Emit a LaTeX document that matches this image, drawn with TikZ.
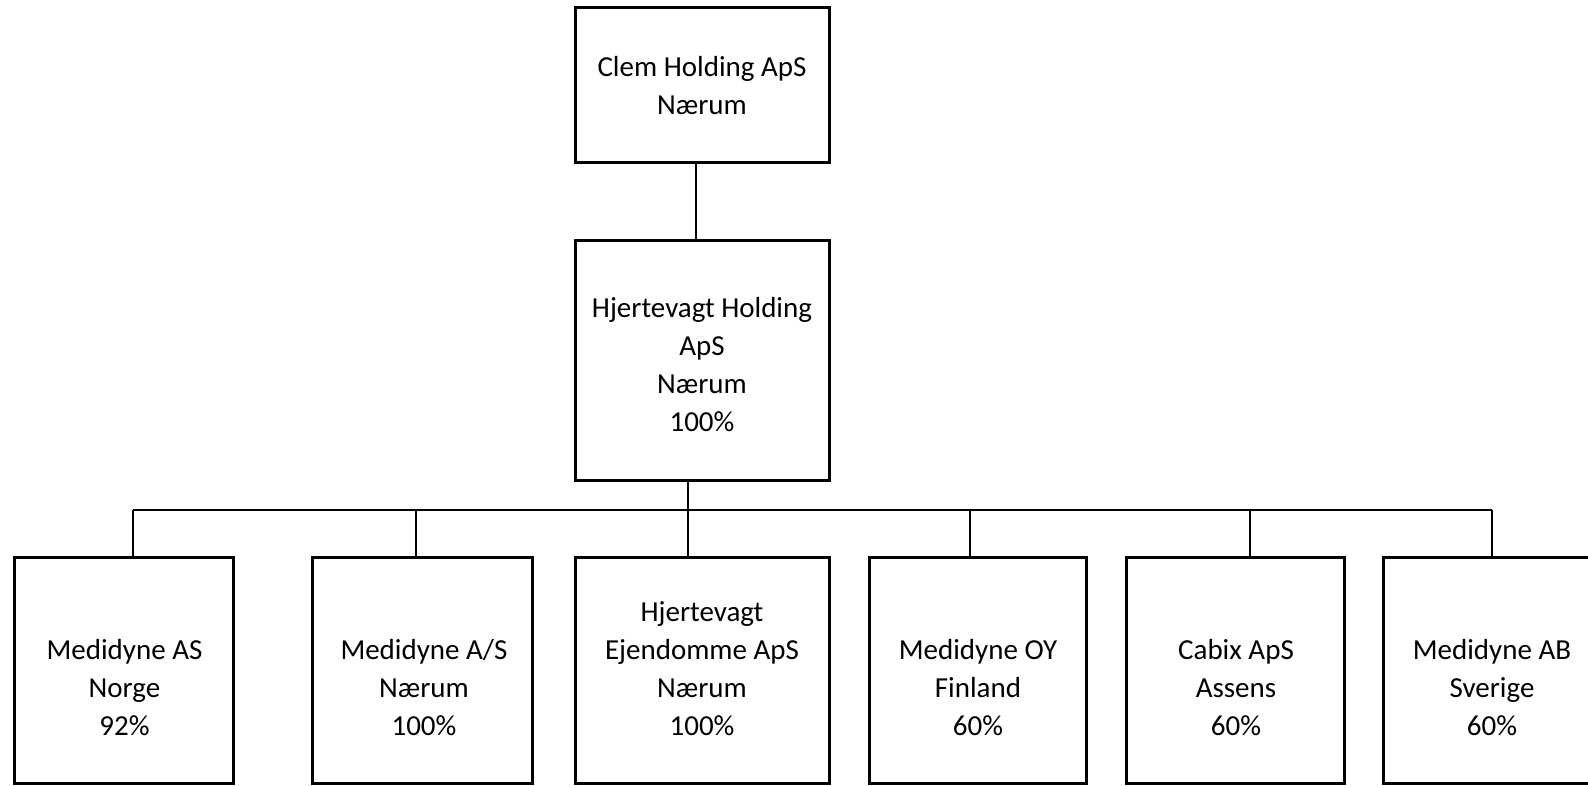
\documentclass[tikz,border=0pt]{standalone}
\usepackage{fontspec}
\setmainfont{Carlito}
\usetikzlibrary{calc}
\tikzset{
  box/.style={draw=black, line width=3pt, rectangle, inner sep=0pt},
  txt/.style={align=center, inner sep=0pt, font=\fontsize{29}{38}\selectfont},
  conn/.style={draw=black, line width=1.3pt}
}
\begin{document}
\begin{tikzpicture}[x=1pt,y=-1pt]
\useasboundingbox (0,0) rectangle (1588,785);
\clip (0,0) rectangle (1588,785);
% boxes (corner coordinates in px)
\node[box, minimum width=254pt, minimum height=155pt] (top) at (702,84.5) {};
\node[box, minimum width=254pt, minimum height=240pt] (mid) at (702,360) {};
\node[box, minimum width=219pt, minimum height=226pt] (b1) at (123.5,670) {};
\node[box, minimum width=220pt, minimum height=226pt] (b2) at (422,670) {};
\node[box, minimum width=254pt, minimum height=226pt] (b3) at (702,670) {};
\node[box, minimum width=217pt, minimum height=226pt] (b4) at (977.5,670) {};
\node[box, minimum width=218pt, minimum height=226pt] (b5) at (1235,670) {};
\node[box, minimum width=218pt, minimum height=226pt] (b6) at (1492,670) {};
% texts
\node[txt] (ttop) at (702,86) {Clem Holding ApS\\Nærum};
\node[txt] (tmid) at (702,365) {Hjertevagt Holding\\ApS\\Nærum\\100\%};
\node[txt] (t1) at (124.5,688) {Medidyne AS\\Norge\\92\%};
\node[txt] (t2) at (424,688) {Medidyne A/S\\Nærum\\100\%};
\node[txt] (t3) at (702,669) {Hjertevagt\\Ejendomme ApS\\Nærum\\100\%};
\node[txt] (t4) at (978,688) {Medidyne OY\\Finland\\60\%};
\node[txt] (t5) at (1236,688) {Cabix ApS\\Assens\\60\%};
\node[txt] (t6) at (1492,688) {Medidyne AB\\Sverige\\60\%};
% connectors
\coordinate (bar) at (688,510);
\draw[conn] (top.south -| 696,0) -- (mid.north -| 696,0);
\draw[conn] (mid.south -| bar) -- (bar);
\draw[conn] (bar -| 133,0) -- (bar -| 1492,0);
\draw[conn] (bar -| 133,0) -- (b1.north -| 133,0);
\draw[conn] (bar -| 416,0) -- (b2.north -| 416,0);
\draw[conn] (bar) -- (b3.north -| bar);
\draw[conn] (bar -| 970,0) -- (b4.north -| 970,0);
\draw[conn] (bar -| 1250,0) -- (b5.north -| 1250,0);
\draw[conn] (bar -| 1492,0) -- (b6.north -| 1492,0);
\end{tikzpicture}
\end{document}
